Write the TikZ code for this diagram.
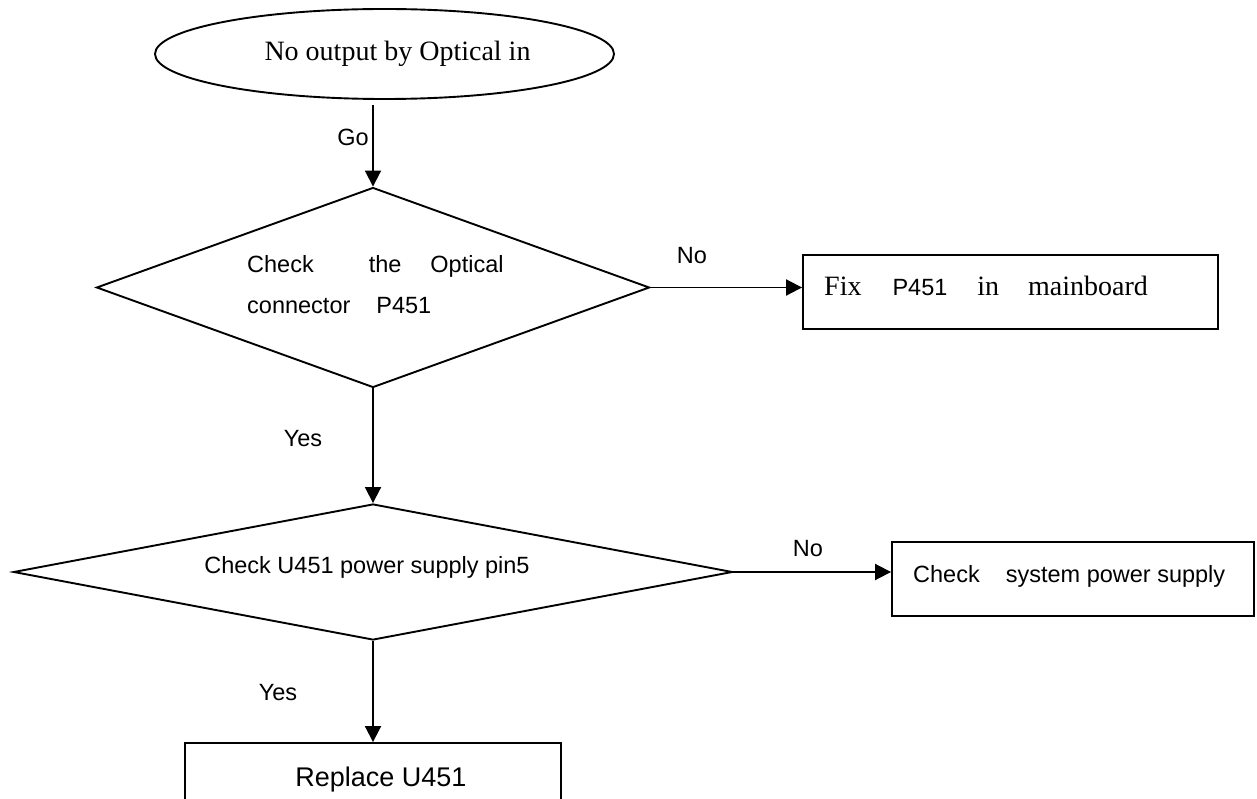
\documentclass[tikz,border=0pt]{standalone}
\usepackage{fontspec}
\setmainfont{Liberation Serif}
\setsansfont{Liberation Sans}
\usetikzlibrary{shapes.geometric,arrows.meta,calc}
\begin{document}
\begin{tikzpicture}[x=1pt,y=-1pt,
  shapeline/.style={draw=black, line width=1.9pt},
  arr/.style={line width=1.9pt, -{Triangle[length=16pt,width=16pt]}},
  sanstxt/.style={font=\sffamily\fontsize{23.5}{28}\selectfont, inner sep=0pt},
  bigsans/.style={font=\sffamily\fontsize{27}{32}\selectfont, inner sep=0pt},
  seriftxt/.style={font=\rmfamily\fontsize{28}{34}\selectfont, inner sep=0pt},
  boxnode/.style={shapeline, rectangle, minimum height=74pt, inner sep=0pt},
  decision/.style={shapeline, diamond, inner sep=0pt},
]
\useasboundingbox (0,0) rectangle (1257,799);
\clip (0,0) rectangle (1257,799);

% start ellipse
\node[shapeline, ellipse, minimum width=459pt, minimum height=90pt, inner sep=0pt] (start) at (384.5,54) {};
\node[seriftxt, anchor=base] (starttxt) at (397.5,61) {No output by Optical in};

% decision 1
\node[decision, minimum width=553pt, minimum height=200pt] (d1) at (373,287.5) {};
\node[sanstxt, anchor=base west] (d1a) at (247,273) {Check\hspace{55pt}the\hspace{29pt}Optical};
\node[sanstxt, anchor=base west] (d1b) at (247,313) {connector\hspace{26pt}P451};

% box 1
\node[boxnode, minimum width=415pt] (b1) at (1010.5,292) {};
\node[anchor=base west, inner sep=0pt] (b1txt) at (824,296)
  {{\rmfamily\fontsize{28}{34}\selectfont Fix}\hspace{31pt}{\sffamily\fontsize{23.5}{28}\selectfont P451}\hspace{30pt}{\rmfamily\fontsize{28}{34}\selectfont in}\hspace{29pt}{\rmfamily\fontsize{28}{34}\selectfont mainboard}};

% decision 2
\node[decision, minimum width=719pt, minimum height=136pt] (d2) at (373,572) {};
\node[sanstxt, anchor=base] (d2txt) at (367,573) {Check U451 power supply pin5};

% box 2
\node[boxnode, minimum width=362pt] (b2) at (1073,579) {};
\node[sanstxt, anchor=base west] (b2txt) at (913,582) {Check\hspace{26pt}system power supply};

% box 3
\node[boxnode, minimum width=376pt] (b3) at (373,780) {};
\node[bigsans, anchor=base] (b3txt) at (381,786) {Replace U451};

% connectors
\draw[arr] ([yshift=-5pt]start.south -| d1.north) -- (d1.north);
\draw[arr] (d1.east) -- (d1.east -| b1.west);
\draw[arr] (d1.south) -- (d2.north);
\draw[arr] (d2.east) -- (d2.east -| b2.west);
\draw[arr] (d2.south) -- (b3.north);

% labels
\node[sanstxt] (lgo) at (353,137) {Go};
\node[sanstxt] (lno1) at (692,256) {No};
\node[sanstxt] (lyes1) at (303,439) {Yes};
\node[sanstxt] (lno2) at (808,549) {No};
\node[sanstxt] (lyes2) at (278,693) {Yes};
\end{tikzpicture}
\end{document}
